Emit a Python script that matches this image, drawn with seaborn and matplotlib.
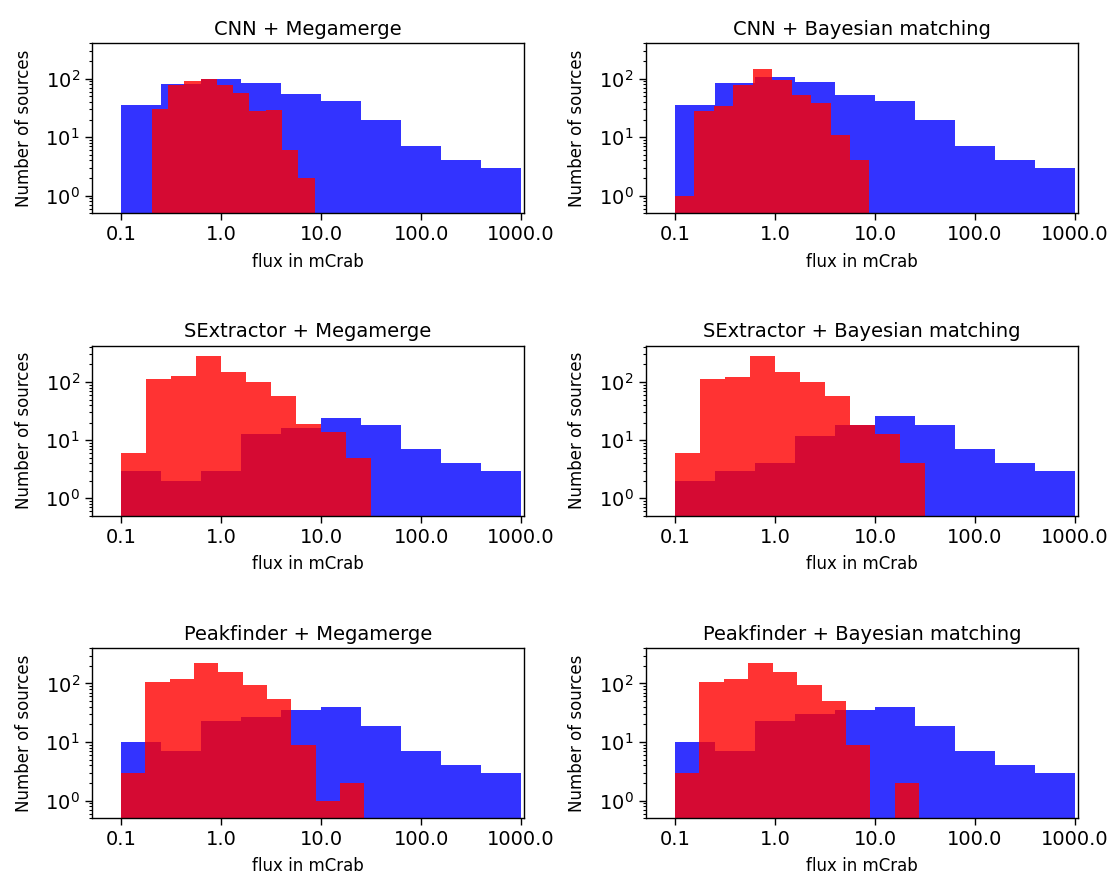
import numpy as np
import pandas as pd
import matplotlib
matplotlib.use("Agg")
import matplotlib.pyplot as plt
from matplotlib.ticker import LogLocator
import seaborn as sns

# --------------------------------------------------------
# Data (counts read per bin, flux ranges in mCrab)
# --------------------------------------------------------
titles = [
    "CNN + Megamerge", "CNN + Bayesian matching",
    "SExtractor + Megamerge", "SExtractor + Bayesian matching",
    "Peakfinder + Megamerge", "Peakfinder + Bayesian matching",
]

# catalogue sources (blue), 10 log bins between 0.1 and 1000 mCrab
blue_range = (0.1, 1000.0)
blue_cnn_mm = [35, 82, 100, 85, 54, 41, 20, 7, 4, 3]
blue_cnn_bm = [36, 85, 107, 88, 52, 41, 20, 7, 4, 3]
blue_sex_mm = [3, 2, 3, 13, 16, 24, 18, 7, 4, 3]
blue_sex_bm = [2, 3, 4, 12, 18, 26, 18, 7, 4, 3]
blue_pf_mm = [10, 7, 23, 27, 35, 39, 19, 7, 4, 3]
blue_pf_bm = [10, 7, 23, 30, 35, 40, 19, 7, 4, 3]

# detected sources (red), 10 log bins over their own flux range
red_range_cnn_mm = (0.203, 8.6)
red_range_cnn_bm = (0.1, 8.8)
red_range_sex_mm = (0.1, 31.6)
red_range_sex_bm = (0.1, 31.6)
red_range_pf_mm = (0.1, 27.1)
red_range_pf_bm = (0.1, 27.7)

red_cnn_mm = [30, 77, 91, 100, 77, 57, 28, 29, 6, 2]
red_cnn_bm = [1, 28, 34, 77, 148, 94, 52, 39, 11, 4]
red_sex_mm = [6, 111, 125, 275, 148, 100, 57, 19, 14, 5]
red_sex_bm = [6, 114, 120, 275, 148, 100, 57, 18, 13, 4]
red_pf_mm = [3, 104, 119, 220, 156, 95, 54, 9, 1, 2]
red_pf_bm = [3, 104, 119, 220, 154, 95, 50, 9, 0, 2]

tick_fluxes = [0.1, 1.0, 10.0, 100.0, 1000.0]

blue_counts = [blue_cnn_mm, blue_cnn_bm, blue_sex_mm, blue_sex_bm, blue_pf_mm, blue_pf_bm]
red_counts = [red_cnn_mm, red_cnn_bm, red_sex_mm, red_sex_bm, red_pf_mm, red_pf_bm]
red_ranges = [red_range_cnn_mm, red_range_cnn_bm, red_range_sex_mm,
              red_range_sex_bm, red_range_pf_mm, red_range_pf_bm]


# --------------------------------------------------------
# Helpers
# --------------------------------------------------------
def draw_hist(ax, flux_range, counts, color):
    # histogram in log10(flux) space
    edges = np.linspace(np.log10(flux_range[0]), np.log10(flux_range[1]), len(counts) + 1)
    df = pd.DataFrame({"logflux": (edges[:-1] + edges[1:]) / 2, "n": counts})
    sns.histplot(data=df, x="logflux", weights="n", bins=edges.tolist(), element="step",
                 fill=True, color=color, alpha=0.8, linewidth=0, ax=ax)


def main():
    sns.set_style("ticks", {"axes.edgecolor": "black", "text.color": "black",
                            "axes.labelcolor": "black", "xtick.color": "black",
                            "ytick.color": "black"})
    plt.rcParams["font.family"] = ["DejaVu Sans"]

    fig, axes = plt.subplots(3, 2, figsize=(11.12, 8.8), dpi=100)
    fig.subplots_adjust(left=0.0824, right=0.9697, top=0.9508, bottom=0.0701,
                        wspace=0.28, hspace=0.778)

    for i, ax in enumerate(axes.flat):
        draw_hist(ax, blue_range, blue_counts[i], "blue")
        draw_hist(ax, red_ranges[i], red_counts[i], "red")

        ax.set_yscale("log")
        ax.yaxis.set_minor_locator(LogLocator(base=10, subs=np.arange(2, 10), numticks=20))
        ax.set_ylim(0.5, 400 if i // 2 != 1 else 420)
        ax.set_xlim(-1.294, 3.033)
        ax.set_xticks(np.log10(tick_fluxes))
        ax.set_xticklabels([f"{v:.1f}" for v in tick_fluxes])
        ax.tick_params(axis="both", which="major", labelsize=14, length=5, width=1,
                       color="black")
        ax.tick_params(axis="y", which="minor", length=2.5, width=0.8, color="black")
        for sp in ax.spines.values():
            sp.set_color("black")
            sp.set_linewidth(1)

        ax.set_title(titles[i], fontsize=14)
        ax.set_xlabel("flux in mCrab", fontsize=12, labelpad=6)
        ax.set_ylabel("Number of sources", fontsize=12, labelpad=9)

    fig.savefig("out.png", dpi=100)
    plt.close(fig)


if __name__ == "__main__":
    main()
